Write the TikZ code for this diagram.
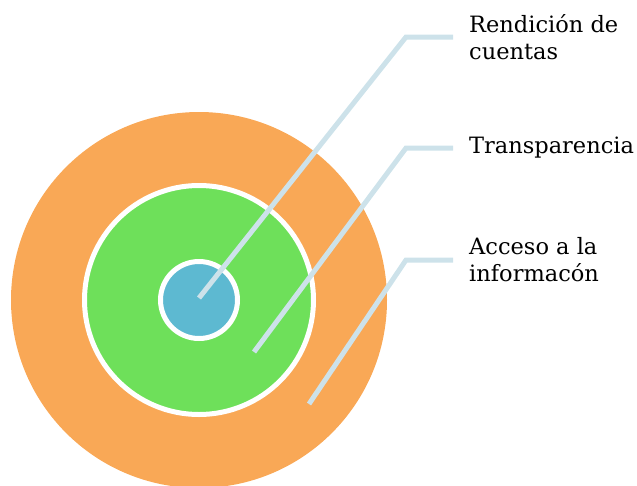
\documentclass[tikz,border=0pt]{standalone}
\usepackage{tikz}
\usepackage{xcolor}
\usepackage{fontspec}
\setmainfont{DejaVu Serif}
\usetikzlibrary{positioning}
\definecolor{ringorange}{RGB}{249,168,86}
\definecolor{ringgreen}{RGB}{110,224,90}
\definecolor{ringblue}{RGB}{93,185,209}
\definecolor{leadblue}{RGB}{205,226,234}

\begin{document}
\begin{tikzpicture}[x=1pt,y=-1pt,
ring/.style={circle, draw=white, line width=5pt, inner sep=0},
lead/.style={draw=leadblue, line width=5pt},
lab/.style={inner sep=0, align=left, font=\fontsize{22.5}{27}\selectfont}]
	\clip (0,0) rectangle (637,485);
	\node[ring, draw=none, fill=ringorange, minimum size=376pt] at (199,300) (acc) {};
	\node[ring, fill=ringgreen, minimum size=229pt] at (acc.center) (tra) {};
	\node[ring, fill=ringblue, minimum size=77pt] at (acc.center) (ren) {};
	\coordinate (p1) at (199,298);
	\coordinate (p2) at (254,352);
	\coordinate (p3) at (309,404);
	\coordinate (b1) at (406,37);
	\coordinate (b2) at (406,148);
	\coordinate (b3) at (406,260);
	\coordinate (e1) at (453,37);
	\coordinate (e2) at (453,148);
	\coordinate (e3) at (453,260);
	\draw[lead] (p1) -- (b1) -- (e1);
	\draw[lead] (p2) -- (b2) -- (e2);
	\draw[lead] (p3) -- (b3) -- (e3);
	\node[lab, right=16pt of e1] (l1) {Rendición de\\cuentas};
	\node[lab, right=16pt of e2] (l2) {Transparencia};
	\node[lab, right=16pt of e3] (l3) {Acceso a la\\informacón};
\end{tikzpicture}
\end{document}
